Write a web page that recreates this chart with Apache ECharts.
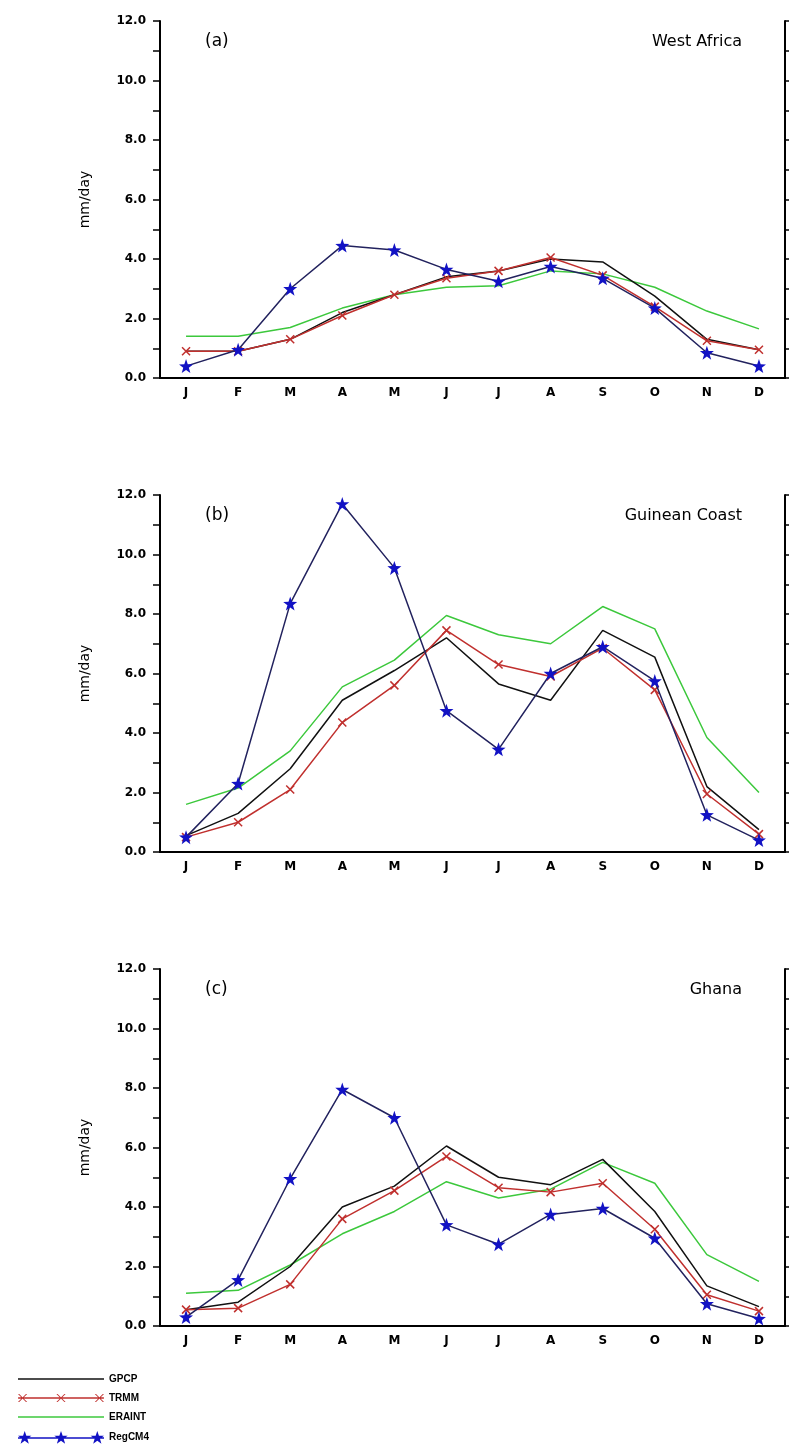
<!DOCTYPE html>
<html>
<head>
<meta charset="utf-8">
<title>Annual cycle of rainfall</title>
<script src="https://cdn.jsdelivr.net/npm/echarts@6/dist/echarts.min.js"></script>
<style>
  html, body { margin: 0; padding: 0; background: #fff; }
  #chart { width: 789px; height: 1450px; }
</style>
</head>
<body>
<div id="chart"></div>
<script>
// months (labels show first letter only)
var months = ['Jan','Feb','Mar','Apr','May','Jun','Jul','Aug','Sep','Oct','Nov','Dec'];
var seriesNames = ['GPCP','TRMM','ERAINT','RegCM4'];

// (a) West Africa
var gpcpA   = [0.9, 0.9, 1.3, 2.2, 2.8, 3.4, 3.6, 4.0, 3.9, 2.75, 1.3, 0.95];
var trmmA   = [0.9, 0.9, 1.3, 2.1, 2.8, 3.35, 3.6, 4.05, 3.45, 2.4, 1.25, 0.95];
var eraintA = [1.4, 1.4, 1.7, 2.35, 2.8, 3.05, 3.1, 3.6, 3.5, 3.05, 2.25, 1.65];
var regcmA  = [0.4, 0.95, 3.0, 4.45, 4.3, 3.65, 3.25, 3.75, 3.35, 2.35, 0.85, 0.4];

// (b) Guinean Coast
var gpcpB   = [0.55, 1.3, 2.8, 5.1, 6.1, 7.2, 5.65, 5.1, 7.45, 6.55, 2.2, 0.75];
var trmmB   = [0.5, 1.0, 2.1, 4.35, 5.6, 7.45, 6.3, 5.9, 6.85, 5.45, 1.95, 0.6];
var eraintB = [1.6, 2.15, 3.4, 5.55, 6.45, 7.95, 7.3, 7.0, 8.25, 7.5, 3.85, 2.0];
var regcmB  = [0.5, 2.3, 8.35, 11.7, 9.55, 4.75, 3.45, 6.0, 6.9, 5.75, 1.25, 0.4];

// (c) Ghana
var gpcpC   = [0.55, 0.8, 2.0, 4.0, 4.7, 6.05, 5.0, 4.75, 5.6, 3.85, 1.35, 0.65];
var trmmC   = [0.55, 0.6, 1.4, 3.6, 4.55, 5.7, 4.65, 4.5, 4.8, 3.25, 1.05, 0.5];
var eraintC = [1.1, 1.2, 2.05, 3.1, 3.85, 4.85, 4.3, 4.6, 5.5, 4.8, 2.4, 1.5];
var regcmC  = [0.3, 1.55, 4.95, 7.95, 7.0, 3.4, 2.75, 3.75, 3.95, 2.95, 0.75, 0.25];

var panels = [
  { tag: '(a)', region: 'West Africa',   top: 21,  data: [gpcpA, trmmA, eraintA, regcmA] },
  { tag: '(b)', region: 'Guinean Coast', top: 495, data: [gpcpB, trmmB, eraintB, regcmB] },
  { tag: '(c)', region: 'Ghana',         top: 969, data: [gpcpC, trmmC, eraintC, regcmC] }
];

var FONT = 'DejaVu Sans';
var PANEL_H = 357;
var LEG_W = 86;

// star outline centred on (cx, cy)
function starPath(cx, cy, R) {
  var r = R * 0.4, d = '';
  for (var k = 0; k < 10; k++) {
    var a = (-90 + k * 36) * Math.PI / 180, rr = k % 2 ? r : R;
    d += (k ? 'L' : 'M') + (cx + rr * Math.cos(a)).toFixed(2) + ',' + (cy + rr * Math.sin(a)).toFixed(2);
  }
  return d + 'Z';
}
// filled "x" made of two thin bars
function crossPath(cx, cy, s, t) {
  return 'M' + (cx - s - t) + ',' + (cy - s) + 'L' + (cx - s + t) + ',' + (cy - s) +
         'L' + (cx + s + t) + ',' + (cy + s) + 'L' + (cx + s - t) + ',' + (cy + s) + 'Z' +
         'M' + (cx + s - t) + ',' + (cy - s) + 'L' + (cx + s + t) + ',' + (cy - s) +
         'L' + (cx - s + t) + ',' + (cy + s) + 'L' + (cx - s - t) + ',' + (cy + s) + 'Z';
}
function barPath(y, h) {
  return 'M0,' + y + 'L' + LEG_W + ',' + y + 'L' + LEG_W + ',' + (y + h) + 'L0,' + (y + h) + 'Z';
}

var STAR = 'path://' + starPath(0, 0, 10);
var CROSS = 'path://M-5,-5L5,5M5,-5L-5,5';

var lineIcon = 'path://' + barPath(0, 1.6);
var trmmIcon = 'path://' + barPath(5.8, 1.4) + crossPath(4.5, 6.5, 4, 0.6) +
  crossPath(LEG_W / 2, 6.5, 4, 0.6) + crossPath(LEG_W - 4.5, 6.5, 4, 0.6);
var regIcon = 'path://' + barPath(6.2, 1.6) + starPath(6.7, 7, 7) +
  starPath(LEG_W / 2, 7, 7) + starPath(LEG_W - 6.7, 7, 7);

var grids = [], xAxes = [], yAxes = [], series = [], titles = [];

panels.forEach(function (p, i) {
  grids.push({ left: 160, right: 4, top: p.top, height: PANEL_H, containLabel: false });

  // bottom axis with labels, top axis only for the frame and ticks
  xAxes.push({
    type: 'category', gridIndex: i, data: months, boundaryGap: true, position: 'bottom',
    axisLine: { lineStyle: { color: '#000', width: 2 } },
    axisTick: { length: 6, lineStyle: { color: '#000', width: 1.5 } },
    axisLabel: { color: '#000', fontFamily: FONT, fontWeight: 'bold', fontSize: 12, margin: 9,
      formatter: function (v) { return v.charAt(0); } },
    splitLine: { show: false }
  });
  xAxes.push({
    type: 'category', gridIndex: i, data: months, boundaryGap: true, position: 'top',
    axisLine: { lineStyle: { color: '#000', width: 2 } },
    axisTick: { length: 7, lineStyle: { color: '#000', width: 1.5 } },
    axisLabel: { show: false },
    splitLine: { show: false }
  });

  yAxes.push({
    type: 'value', gridIndex: i, min: 0, max: 12, interval: 1, position: 'left',
    name: 'mm/day', nameLocation: 'middle', nameGap: 68, nameRotate: 90,
    nameTextStyle: { color: '#000', fontFamily: FONT, fontSize: 14 },
    axisLine: { show: true, lineStyle: { color: '#000', width: 2 } },
    axisTick: { show: true, length: 7, lineStyle: { color: '#000', width: 1.5 } },
    axisLabel: { color: '#000', fontFamily: FONT, fontWeight: 'bold', fontSize: 12, margin: 14,
      formatter: function (v) { return v % 2 === 0 ? v.toFixed(1) : ''; } },
    splitLine: { show: false }
  });
  yAxes.push({
    type: 'value', gridIndex: i, min: 0, max: 12, interval: 1, position: 'right',
    axisLine: { show: true, lineStyle: { color: '#000', width: 2 } },
    axisTick: { show: true, length: 6, lineStyle: { color: '#000', width: 1.5 } },
    axisLabel: { show: false },
    splitLine: { show: false }
  });

  titles.push({ text: p.tag, left: 205, top: p.top + 12, padding: 0,
    textStyle: { color: '#000', fontFamily: FONT, fontWeight: 'normal', fontSize: 17 } });
  titles.push({ text: p.region, right: 47, top: p.top + 13, padding: 0,
    textStyle: { color: '#000', fontFamily: FONT, fontWeight: 'normal', fontSize: 16 } });

  var xi = i * 2, yi = i * 2;
  // draw order: green, black, red, blue on top
  series.push({
    name: 'ERAINT', type: 'line', xAxisIndex: xi, yAxisIndex: yi, data: p.data[2],
    symbol: 'none', lineStyle: { color: '#3cc83c', width: 1.5 }, itemStyle: { color: '#3cc83c' },
    z: 2
  });
  series.push({
    name: 'GPCP', type: 'line', xAxisIndex: xi, yAxisIndex: yi, data: p.data[0],
    symbol: 'none', lineStyle: { color: '#111', width: 1.5 }, itemStyle: { color: '#111' },
    z: 3
  });
  series.push({
    name: 'TRMM', type: 'line', xAxisIndex: xi, yAxisIndex: yi, data: p.data[1],
    symbol: CROSS, symbolSize: 8,
    lineStyle: { color: '#c0302e', width: 1.5 },
    itemStyle: { color: '#c0302e', borderColor: '#c0302e', borderWidth: 1.5 },
    z: 4
  });
  series.push({
    name: 'RegCM4', type: 'line', xAxisIndex: xi, yAxisIndex: yi, data: p.data[3],
    symbol: STAR, symbolSize: 14,
    lineStyle: { color: '#22225e', width: 1.5 },
    itemStyle: { color: '#1212c4', borderWidth: 0 },
    z: 5
  });
});

var chart = echarts.init(document.getElementById('chart'), null, { renderer: 'canvas' });
chart.setOption({
  backgroundColor: '#fff',
  animation: false,
  title: titles,
  legend: {
    data: [
      { name: seriesNames[0], icon: lineIcon },
      { name: seriesNames[1], icon: trmmIcon, itemStyle: { borderWidth: 0 } },
      { name: seriesNames[2], icon: lineIcon },
      { name: seriesNames[3], icon: regIcon }
    ],
    orient: 'vertical', left: 18, top: 1374,
    itemWidth: LEG_W, itemHeight: 13, itemGap: 9, padding: 0,
    textStyle: { color: '#000', fontFamily: 'Liberation Sans', fontWeight: 'bold', fontSize: 10 }
  },
  grid: grids,
  xAxis: xAxes,
  yAxis: yAxes,
  series: series
});
</script>
</body>
</html>
